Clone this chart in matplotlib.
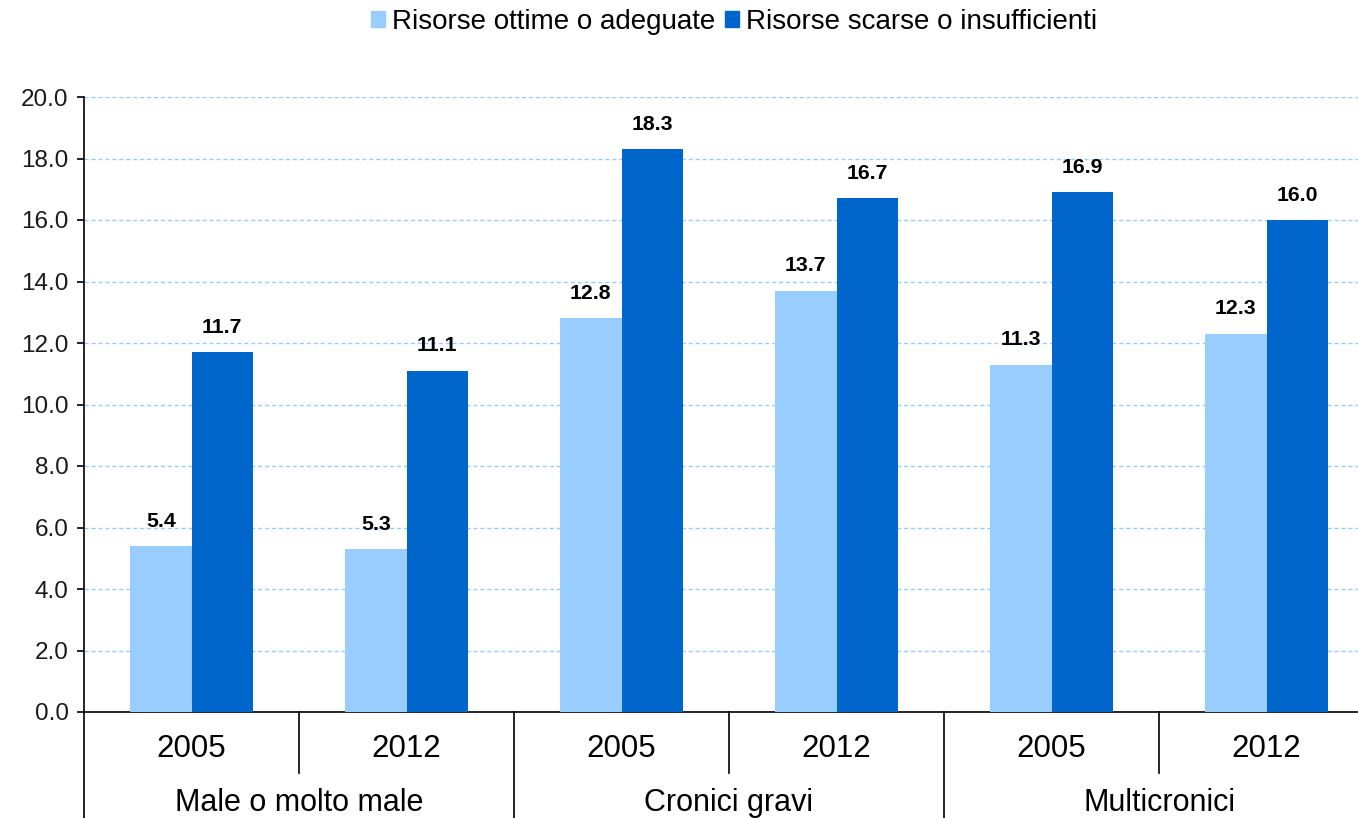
import matplotlib
matplotlib.use("Agg")
import matplotlib.pyplot as plt
from matplotlib.patches import Patch
import matplotlib.transforms as mtransforms

plt.rcParams['font.family'] = ['Liberation Sans', 'DejaVu Sans']

groups = ["Male o molto male", "Cronici gravi", "Multicronici"]
years = ["2005", "2012"]
series_names = ["Risorse ottime o adeguate", "Risorse scarse o insufficienti"]
ottime = [5.4, 5.3, 12.8, 13.7, 11.3, 12.3]
scarse = [11.7, 11.1, 18.3, 16.7, 16.9, 16.0]
yticks = [0, 2, 4, 6, 8, 10, 12, 14, 16, 18, 20]
colors = ["#99CCFF", "#0066CC"]

fig = plt.figure(figsize=(13.58, 8.18), dpi=100)
ax = fig.add_axes([84/1358, 1-712/818, 1290/1358, (712-97)/818])

n = len(ottime)
x = list(range(n))
w = 0.286
b1 = ax.bar([i - w/2 for i in x], ottime, width=w, color=colors[0], zorder=3)
b2 = ax.bar([i + w/2 for i in x], scarse, width=w, color=colors[1], zorder=3)

for bars, vals in ((b1, ottime), (b2, scarse)):
    for r, v in zip(bars, vals):
        ax.annotate(f"{v:.1f}", (r.get_x() + r.get_width()/2, v),
                    xytext=(0, 11), textcoords="offset points",
                    ha="center", va="bottom", fontsize=15.3, fontweight="bold")

ax.set_xlim(-0.5, n - 0.5)
ax.set_ylim(0, 20)
ax.set_yticks(yticks)
ax.set_yticklabels([f"{t:.1f}" for t in yticks], fontsize=17.5, color="#1a1a1a")
ax.tick_params(axis="y", length=5, width=1.2, direction="out", pad=6)
ax.set_xticks([])
ax.yaxis.grid(True, linestyle=(0, (3, 2)), color="#99CCFF", linewidth=1, zorder=0)
ax.set_axisbelow(True)
for s in ("top", "right"):
    ax.spines[s].set_visible(False)
ax.spines["left"].set_linewidth(1.2)
ax.spines["bottom"].set_linewidth(1.2)

trans = mtransforms.blended_transform_factory(ax.transData, ax.transAxes)
h_ax = (712-97)/818 * 8.18 * 100  # axes height px
def yf(px_below):
    return -px_below / h_ax

# year dividers
for xd in (0.5, 2.5, 4.5):
    ax.plot([xd, xd], [0, yf(61)], transform=trans, color="black", lw=1.2, clip_on=False)
# group dividers
for xd in (-0.5, 1.5, 3.5, 5.5):
    ax.plot([xd, xd], [0, yf(120)], transform=trans, color="black", lw=1.2, clip_on=False)

for i in x:
    ax.text(i, yf(37), years[i % 2], transform=trans, ha="center", va="center", fontsize=22.5)
for g, name in enumerate(groups):
    ax.text(2*g + 0.5, yf(91), name, transform=trans, ha="center", va="center", fontsize=22)

handles = [Patch(color=colors[0]), Patch(color=colors[1])]
fig.legend(handles, series_names, loc="center", bbox_to_anchor=(734/1358, 1-22/818),
           ncol=2, frameon=False, fontsize=20, handlelength=0.5, handleheight=0.5,
           handletextpad=0.25, columnspacing=0.35)

fig.savefig("out.png", dpi=100)
